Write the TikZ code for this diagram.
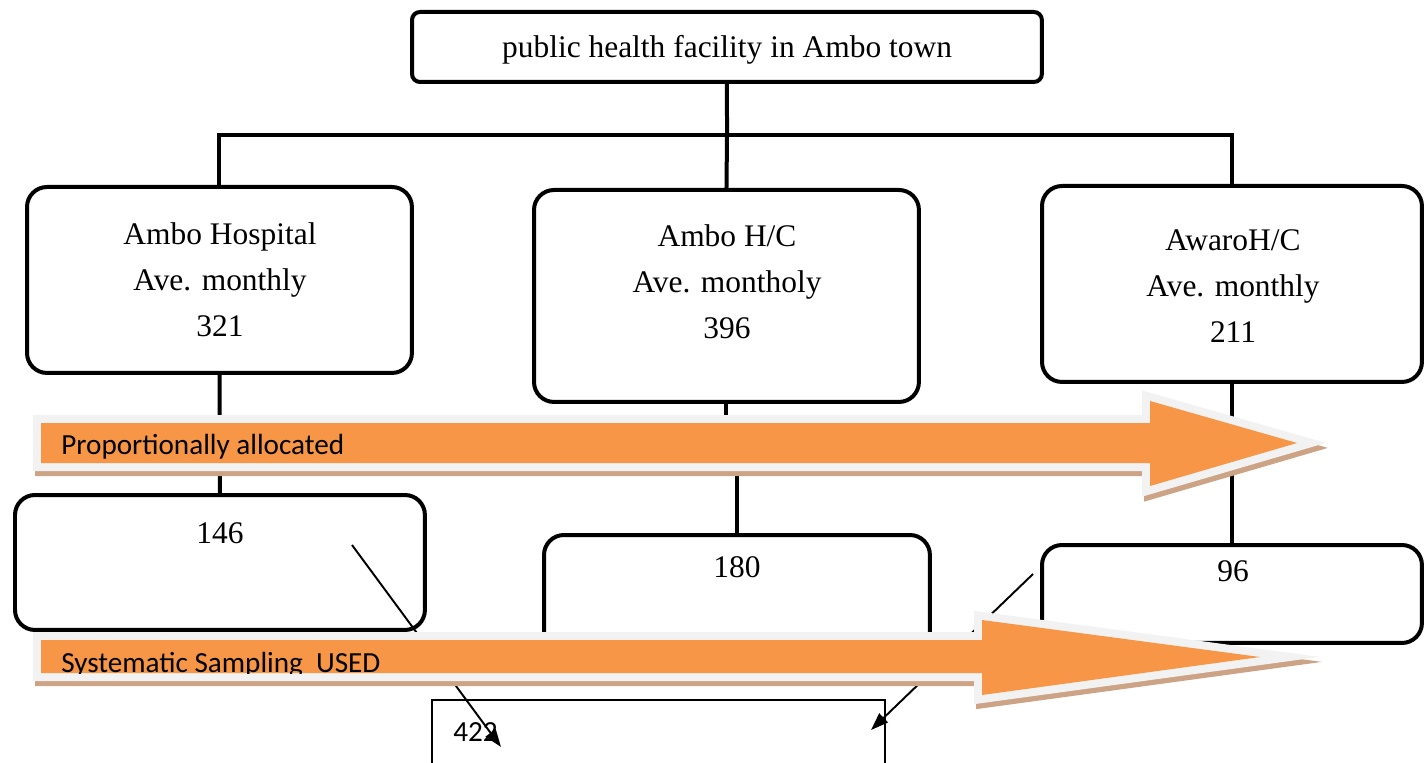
\documentclass[tikz,border=0pt]{standalone}
\usepackage{fontspec}
\setmainfont{Liberation Serif}
\newfontfamily\calibri{Carlito}
\usetikzlibrary{arrows.meta, positioning, calc}
\definecolor{bannerorange}{HTML}{F79646}
\definecolor{bannerrim}{HTML}{F2F2F2}
\definecolor{bannershadow}{HTML}{CDA386}
\tikzstyle{facility} = [rectangle, rounded corners=0.4cm, draw=black, line width=0.08cm, fill=white, outer sep=0pt, anchor=north west]
\tikzstyle{boxtext} = [align=center, inner sep=0pt, font=\fontsize{17.9}{26.2}\selectfont]
\tikzstyle{link} = [line width=0.08cm]
\tikzstyle{pointer} = [line width=1.1pt, -{Triangle[length=10pt,width=7pt]}]
\tikzstyle{banner} = [fill=bannerorange, miter limit=10,
    preaction={draw=bannershadow, fill=bannershadow, line width=0.32cm, transform canvas={shift={(0.04cm,-0.1cm)}}},
    preaction={draw=bannerrim, fill=bannerrim, line width=0.32cm}]
\tikzstyle{bannertext} = [inner sep=0pt, anchor=base west, font=\calibri\fontsize{16.6}{20}\selectfont]

\begin{document}
\begin{tikzpicture}[x=0.02cm, y=-0.02cm]
    \useasboundingbox (0,0) rectangle (1425,763);

    % Facilities
    \node[facility, rounded corners=0.16cm, minimum width=12.6cm, minimum height=1.4cm] (town) at (412,12) {};
    \node[boxtext] (townT) at (727,50) {public health facility in Ambo town};
    \node[facility, minimum width=7.7cm, minimum height=3.72cm] (hosp) at (27,187) {};
    \node[facility, minimum width=7.7cm, minimum height=4.24cm] (amboHC) at (534,190) {};
    \node[facility, minimum width=7.6cm, minimum height=3.92cm] (awaroHC) at (1042,186) {};
    \node[boxtext] (hospT) at (220,280) {Ambo Hospital\\Ave. monthly\\321};
    \node[boxtext] (amboT) at (727,282) {Ambo H/C\\Ave. montholy\\396};
    \node[boxtext] (awaroT) at (1233,286) {AwaroH/C\\Ave. monthly\\211};

    % Samples
    \node[facility, minimum width=8.2cm, minimum height=2.7cm] (hospS) at (15,495) {};
    \node[facility, minimum width=7.72cm, minimum height=2.5cm] (amboS) at (544,535) {};
    \node[facility, minimum width=7.6cm, minimum height=1.96cm] (awaroS) at (1042,545) {};
    \node[boxtext] (hospN) at (220,533) {146};
    \node[boxtext] (amboN) at (737,567) {180};
    \node[boxtext] (awaroN) at (1233,571) {96};
    \node[draw, line width=0.8pt, minimum width=9.06cm, minimum height=1.8cm, outer sep=0pt, anchor=north west] (total) at (432,700) {};
    \node[bannertext, anchor=west] (totalN) at (453,732) {422};

    % Tree
    \coordinate (split) at (727,135);
    \draw[link] (town) -- (split);
    \draw[link] (hosp.north) |- (split) -| (awaroHC.north);
    \draw[link] (split) -- (amboHC.north);
    \draw[link] (hosp) -- (hospS);
    \draw[link] (amboHC.south) -- ++(0,40) -| (amboS.north);
    \draw[link] (awaroHC) -- (awaroS);

    % Pointers to the total
    \coordinate (p1) at (352,545);
    \coordinate (q1) at (501,747);
    \coordinate (p2) at (1033,574);
    \coordinate (q2) at (871,730);
    \draw[pointer] (p1) -- (q1);
    \draw[pointer] (p2) -- (q2);

    % Banners
    \path[banner] (41,423) -- (1150,423) -- (1150,401) -- (1297,443) -- (1150,486) -- (1150,463) -- (41,463) -- cycle;
    \node[bannertext] (alloc) at (61,454) {Proportionally allocated};
    \path[banner] (41,640) -- (982,640) -- (982,620) -- (1260,657) -- (982,695) -- (982,673) -- (41,673) -- cycle;
    \begin{scope}
        \clip (41,640) rectangle (982,673);
        \node[bannertext] (method) at (61,672) {Systematic Sampling\ \ USED};
    \end{scope}
\end{tikzpicture}
\end{document}
